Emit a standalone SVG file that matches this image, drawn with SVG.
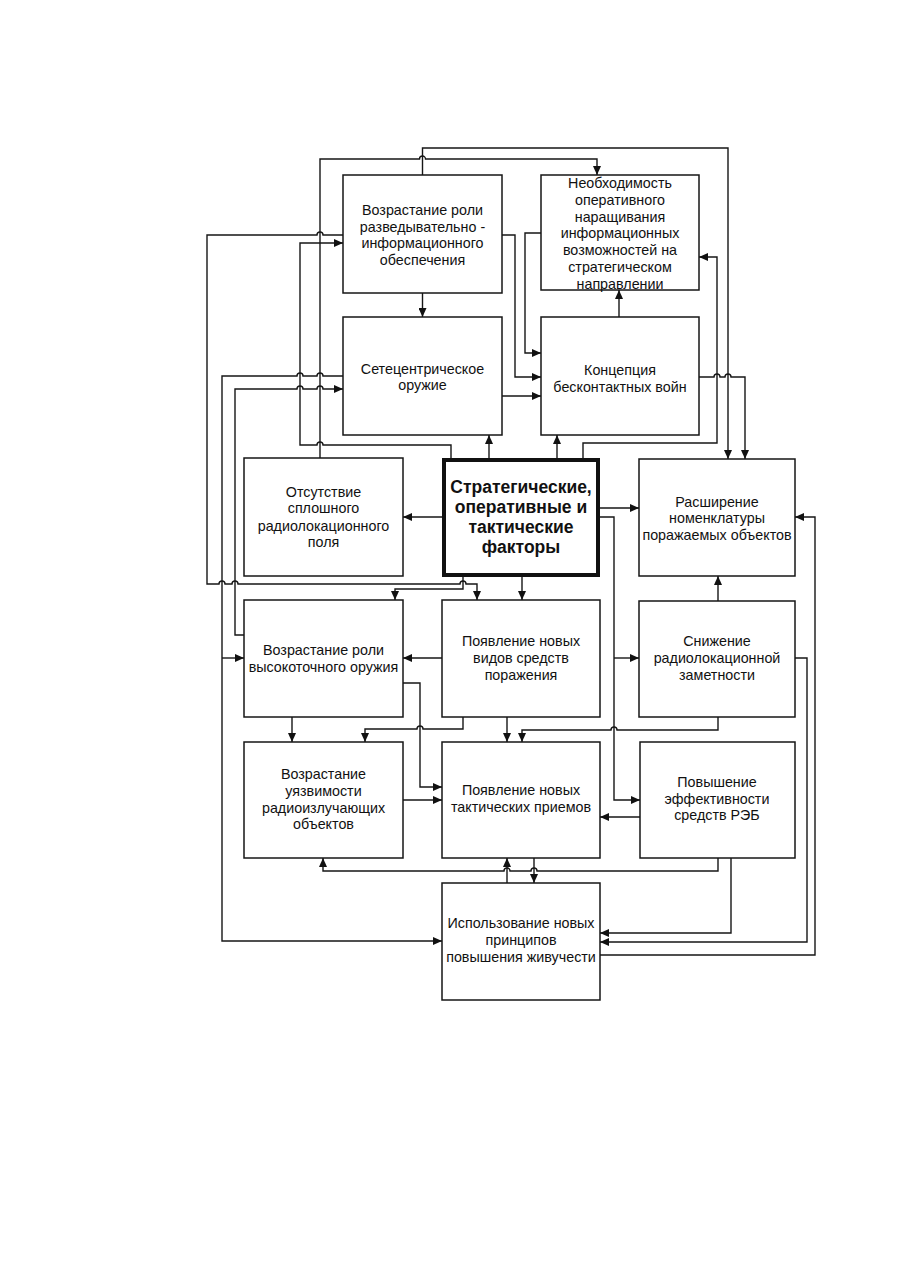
<svg xmlns="http://www.w3.org/2000/svg" width="905" height="1271" viewBox="0 0 905 1271">
<style>
.b{fill:#fff;stroke:#161616;stroke-width:1.5}
.c{fill:#fff;stroke:#111;stroke-width:4}
.t{font-family:"Liberation Sans",Arial,sans-serif;font-size:14.3px;fill:#111;text-anchor:middle}
.tb{font-family:"Liberation Sans",Arial,sans-serif;font-size:17.5px;font-weight:bold;fill:#111;text-anchor:middle}
#conn path{fill:none;stroke:#161616;stroke-width:1.4}
#conn path.a{marker-end:url(#ar)}
</style>
<defs>
<marker id="ar" viewBox="0 0 9 8" refX="9" refY="4" markerWidth="9" markerHeight="8" markerUnits="userSpaceOnUse" orient="auto"><path d="M0,0 L9,4 L0,8 z" fill="#111"/></marker>
</defs>
<rect width="905" height="1271" fill="#fff"/>
<g id="conn">
<path class="a" d="M422.5,175 V148 H728 V459"/>
<path class="a" d="M320,458 V159 H419.5 A3,3 0 0 1 425.5,159 H597 V175"/>
<path class="a" d="M343,235 H323 A3,3 0 0 0 317,235 H207 V584 H219 A3,3 0 0 1 225,584 H232 A3,3 0 0 1 238,584 H460 A3,3 0 0 1 466,584 H477 V600"/>
<path class="a" d="M451,458 V445 H323 A3,3 0 0 0 317,445 H300 V243 H343"/>
<path class="a" d="M343,376 H323 A3,3 0 0 0 317,376 H303 A3,3 0 0 0 297,376 H222 V941 H442"/>
<path class="a" d="M222,658 H244"/>
<path class="a" d="M244,635 H235 V389 H297 A3,3 0 0 1 303,389 H317 A3,3 0 0 1 323,389 H343"/>
<path class="a" d="M422.5,293 V317"/>
<path class="a" d="M502,235 H515 V377 H541"/>
<path class="a" d="M541,233 H525 V353 H541"/>
<path class="a" d="M502,396 H541"/>
<path class="a" d="M619,317 V290"/>
<path class="a" d="M489,458 V435"/>
<path class="a" d="M557,458 V435"/>
<path class="a" d="M583,458 V443 H717 V257 H699"/>
<path class="a" d="M699,377 H714 A3,3 0 0 1 720,377 H725 A3,3 0 0 1 731,377 H745 V459"/>
<path class="a" d="M442,517 H403"/>
<path class="a" d="M600,508 H639"/>
<path class="a" d="M600,517 H614 V800 H640"/>
<path class="a" d="M614,658 H639"/>
<path class="a" d="M718,601 V576"/>
<path class="a" d="M463,577 V589 H395 V600"/>
<path class="a" d="M522,577 V600"/>
<path class="a" d="M442,658 H403"/>
<path class="a" d="M403,683 H420 V787 H442"/>
<path class="a" d="M292,717 V742"/>
<path class="a" d="M463,717 V729 H423 A3,3 0 0 0 417,729 H365 V742"/>
<path class="a" d="M507,717 V742"/>
<path class="a" d="M718,717 V730 H617 A3,3 0 0 0 611,730 H522 V742"/>
<path class="a" d="M795,658 H807 V942 H600"/>
<path class="a" d="M600,955 H815 V517 H795"/>
<path class="a" d="M731,858 V933 H600"/>
<path class="a" d="M403,800 H442"/>
<path class="a" d="M640,817 H600"/>
<path class="a" d="M718,858 V871 H537 A3,3 0 0 0 531,871 H510 A3,3 0 0 0 504,871 H323 V858"/>
<path class="a" d="M507,883 V858"/>
<path class="a" d="M534,858 V883"/>
</g>
<g id="n1"><rect class="b" x="343" y="175" width="159" height="118"/>
<text class="t"><tspan x="422.5" y="215">Возрастание роли</tspan><tspan x="422.5" y="231.5">разведывательно -</tspan><tspan x="422.5" y="248">информационного</tspan><tspan x="422.5" y="264.5">обеспечения</tspan></text></g>
<g id="n2"><rect class="b" x="343" y="317" width="159" height="118"/>
<text class="t"><tspan x="422.5" y="373.5">Сетецентрическое</tspan><tspan x="422.5" y="390">оружие</tspan></text></g>
<g id="n3"><rect class="b" x="541" y="175" width="158" height="115"/>
<text class="t"><tspan x="620" y="188.3">Необходимость</tspan><tspan x="620" y="205">оперативного</tspan><tspan x="620" y="221.7">наращивания</tspan><tspan x="620" y="238.4">информационных</tspan><tspan x="620" y="255.1">возможностей на</tspan><tspan x="620" y="271.8">стратегическом</tspan><tspan x="620" y="288.5">направлении</tspan></text></g>
<g id="n4"><rect class="b" x="541" y="317" width="158" height="118"/>
<text class="t"><tspan x="620" y="374.5">Концепция</tspan><tspan x="620" y="392">бесконтактных войн</tspan></text></g>
<g id="n5"><rect class="b" x="244" y="458" width="159" height="118"/>
<text class="t"><tspan x="323.5" y="496.5">Отсутствие</tspan><tspan x="323.5" y="513">сплошного</tspan><tspan x="323.5" y="530.5">радиолокационного</tspan><tspan x="323.5" y="547">поля</tspan></text></g>
<g id="n6"><rect class="c" x="444" y="460" width="154" height="115"/>
<text class="tb"><tspan x="521" y="492.7">Стратегические,</tspan><tspan x="521" y="512.9">оперативные и</tspan><tspan x="521" y="533.1">тактические</tspan><tspan x="521" y="553.3">факторы</tspan></text></g>
<g id="n7"><rect class="b" x="639" y="459" width="156" height="117"/>
<text class="t"><tspan x="717" y="506.7">Расширение</tspan><tspan x="717" y="523.4">номенклатуры</tspan><tspan x="717" y="540.1">поражаемых объектов</tspan></text></g>
<g id="n8"><rect class="b" x="244" y="600" width="159" height="117"/>
<text class="t"><tspan x="323.5" y="655">Возрастание роли</tspan><tspan x="323.5" y="671.7">высокоточного оружия</tspan></text></g>
<g id="n9"><rect class="b" x="442" y="600" width="158" height="117"/>
<text class="t"><tspan x="521" y="645.5">Появление новых</tspan><tspan x="521" y="662.5">видов средств</tspan><tspan x="521" y="679.5">поражения</tspan></text></g>
<g id="n10"><rect class="b" x="639" y="601" width="156" height="116"/>
<text class="t"><tspan x="717" y="645.5">Снижение</tspan><tspan x="717" y="662.5">радиолокационной</tspan><tspan x="717" y="679.5">заметности</tspan></text></g>
<g id="n11"><rect class="b" x="244" y="742" width="159" height="116"/>
<text class="t"><tspan x="323.5" y="779.3">Возрастание</tspan><tspan x="323.5" y="796">уязвимости</tspan><tspan x="323.5" y="812.7">радиоизлучающих</tspan><tspan x="323.5" y="829.4">объектов</tspan></text></g>
<g id="n12"><rect class="b" x="442" y="742" width="158" height="116"/>
<text class="t"><tspan x="521" y="795">Появление новых</tspan><tspan x="521" y="812">тактических приемов</tspan></text></g>
<g id="n13"><rect class="b" x="640" y="742" width="155" height="116"/>
<text class="t"><tspan x="717" y="787">Повышение</tspan><tspan x="717" y="803.7">эффективности</tspan><tspan x="717" y="820.4">средств РЭБ</tspan></text></g>
<g id="n14"><rect class="b" x="442" y="883" width="158" height="117"/>
<text class="t"><tspan x="521" y="928.3">Использование новых</tspan><tspan x="521" y="945">принципов</tspan><tspan x="521" y="961.7">повышения живучести</tspan></text></g>
</svg>
